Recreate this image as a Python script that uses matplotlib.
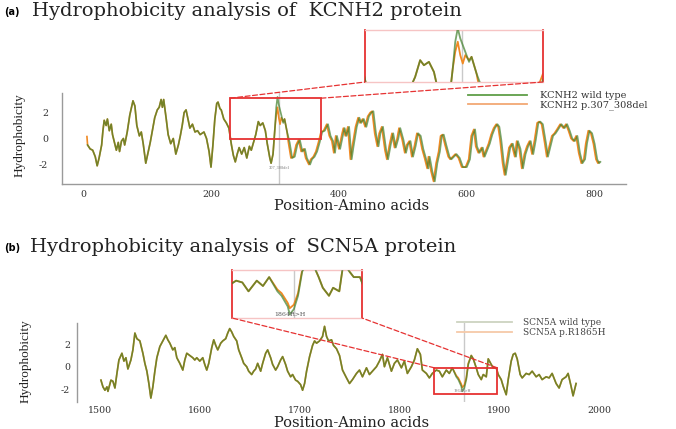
import numpy as np
import matplotlib
matplotlib.use("Agg")
import matplotlib.pyplot as plt
from matplotlib.lines import Line2D
from matplotlib.patches import Rectangle, ConnectionPatch

plt.rcParams['axes.unicode_minus'] = False
plt.rcParams['font.family'] = ['DejaVu Serif']

# ---------------- data: KCNH2 (panel a) ----------------
kcnh2_pos = [7, 11, 15, 19, 22, 25, 29, 31, 33, 36, 38, 41, 44, 46, 49, 52, 55, 57, 60, 63,
             65, 69, 73, 78, 81, 84, 88, 91, 94, 98, 102, 105, 109, 112, 116, 119, 122, 124, 126, 130,
             133, 137, 141, 145, 149, 152, 155, 158, 161, 164, 167, 171, 175, 179, 183, 189, 193, 197, 200, 203,
             206, 209, 211, 214, 216, 220, 224, 228, 232, 235, 238, 241, 244, 248, 252, 256, 260, 263, 267, 270,
             274, 277, 281, 285, 288, 292, 294, 297, 300, 302, 304, 306, 310, 313, 315, 319, 323, 327, 331, 335,
             339, 343, 347, 350, 355, 358, 362, 366, 370, 374, 378, 383, 387, 391, 394, 397, 402, 407, 409, 412,
             416, 420, 423, 428, 432, 435, 439, 443, 447, 451, 454, 458, 462, 465, 469, 474, 477, 481, 485, 489,
             493, 496, 501, 505, 508, 512, 516, 520, 524, 528, 532, 536, 540, 542, 546, 550, 554, 558, 561, 564,
             568, 573, 576, 580, 584, 589, 594, 600, 605, 609, 613, 616, 620, 625, 628, 632, 636, 640, 644, 648,
             651, 654, 658, 661, 665, 668, 672, 677, 680, 684, 688, 692, 696, 700, 704, 708, 712, 715, 719, 724,
             727, 731, 735, 739, 743, 748, 753, 757, 761, 765, 769, 773, 777, 781, 785, 788, 792, 796, 800, 804,
             807, 809]
kcnh2_wt = [-0.5, -0.8, -0.9, -1.4, -2.1, -1.5, -0.5, 0.6, 1.4, 1.0, 1.5, 0.6, 1.1, 0.3, -0.3, -0.9, -0.3, -1.0, -0.2, 0.0,
            -0.5, 0.5, 1.8, 2.9, 2.5, 1.0, 0.2, 0.5, -0.4, -1.9, -1.0, -0.3, 0.8, 1.6, 2.2, 2.4, 3.0, 2.4, 3.0, 1.5,
            0.3, -0.4, 0.0, -1.2, -0.5, 0.2, 1.0, 2.0, 2.2, 1.5, 0.8, 1.1, 0.5, 0.6, 0.3, 0.5, 0.0, -1.0, -2.2, -0.5,
            1.5, 2.7, 2.8, 2.3, 2.2, 1.5, 1.2, 0.8, -0.5, -1.3, -1.8, -1.2, -0.7, -1.2, -0.7, -1.5, -0.6, -0.9, -0.2, 0.3,
            1.3, 1.0, 1.2, 0.6, -0.4, -1.5, -1.9, -1.2, 0.8, 2.4, 3.2, 2.6, 1.8, 1.2, 1.5, 0.5, -0.3, -1.5, -1.4, -0.5,
            -0.1, -1.0, -0.8, -1.5, -2.0, -1.6, -1.4, -1.0, -0.3, 0.5, 0.6, 1.1, 0.2, -0.2, -1.1, 0.2, -0.8, 0.4, 0.8, 0.2,
            0.9, -1.6, -0.6, 0.9, 1.6, 1.2, 1.5, 0.9, 1.7, 2.0, 2.1, 0.4, -0.6, 0.4, 0.9, -0.9, -1.6, -0.5, 0.4, -0.7,
            0.0, 0.8, -0.1, -1.1, -0.5, -0.2, -1.4, -0.6, 0.4, 0.2, -0.8, -1.5, -2.3, -1.4, -2.5, -3.3, -1.9, -1.0, 0.2, 0.3,
            -0.5, -1.4, -1.6, -1.4, -1.2, -1.5, -2.2, -2.2, -1.6, 0.2, 0.7, -0.6, -1.1, -0.7, -1.4, -0.9, -0.4, 0.3, 0.8, 1.1,
            0.9, -0.1, -1.9, -2.8, -1.6, -0.7, -0.4, -1.4, -0.2, -0.8, -2.3, -1.2, -0.6, -0.2, -1.2, -0.1, 1.2, 1.3, 1.1, -0.4,
            -1.4, -0.6, 0.2, 0.4, 0.7, 1.1, 0.8, 1.1, 0.6, 0.0, -0.2, 0.2, -1.1, -1.9, -1.6, -0.4, 0.6, 0.4, -0.4, -1.6,
            -1.9, -1.8]
# mutant (p.307_308del): explicit values around the deletion; downstream = wild type shifted by 2 residues
kcnh2_mut_head_pos = [6]
kcnh2_mut_head = [0.15]
kcnh2_mut_local_pos = [300, 302, 304, 306, 308, 310, 313, 315, 319]
kcnh2_mut_local = [0.8, 1.8, 2.4, 1.6, 1.1, 1.6, 1.3, 1.5, 0.5]
kcnh2_del_len = 2
kcnh2_site = 307

# ---------------- data: SCN5A (panel b) ----------------
scn5a_pos = [1501, 1503, 1505, 1507, 1508, 1511, 1513, 1515, 1517, 1519, 1522, 1524, 1526, 1528, 1531, 1533, 1535, 1537, 1540, 1543,
             1545, 1547, 1549, 1551, 1553, 1555, 1557, 1560, 1563, 1566, 1568, 1570, 1573, 1575, 1577, 1580, 1583, 1585, 1587, 1590,
             1593, 1595, 1597, 1600, 1603, 1605, 1607, 1609, 1612, 1614, 1616, 1618, 1621, 1623, 1626, 1628, 1630, 1632, 1634, 1637,
             1639, 1642, 1644, 1647, 1649, 1652, 1654, 1656, 1658, 1661, 1663, 1666, 1668, 1671, 1673, 1676, 1678, 1681, 1683, 1686,
             1688, 1691, 1693, 1696, 1698, 1701, 1703, 1705, 1707, 1710, 1713, 1715, 1717, 1720, 1723, 1725, 1727, 1729, 1732, 1734,
             1737, 1740, 1743, 1747, 1750, 1753, 1757, 1760, 1763, 1767, 1770, 1773, 1777, 1780, 1783, 1785, 1788, 1792, 1795, 1798,
             1802, 1805, 1808, 1812, 1815, 1818, 1821, 1823, 1827, 1830, 1833, 1837, 1840, 1843, 1847, 1850, 1853, 1857, 1859, 1862,
             1863, 1865, 1867, 1869, 1872, 1874, 1877, 1879, 1882, 1884, 1887, 1889, 1892, 1894, 1897, 1899, 1902, 1904, 1907, 1909,
             1912, 1914, 1916, 1918, 1921, 1923, 1927, 1930, 1933, 1937, 1940, 1943, 1947, 1950, 1953, 1957, 1960, 1963, 1967, 1969,
             1972, 1974, 1977]
scn5a_wt = [-1.2, -1.8, -2.1, -1.8, -2.2, -1.2, -1.3, -1.9, -0.6, 0.6, 1.2, 0.5, 0.8, -0.2, 0.6, 1.5, 3.0, 2.5, 2.3, 1.2,
            0.3, -0.4, -1.5, -2.8, -1.8, -0.4, 0.8, 1.8, 2.3, 2.8, 2.4, 2.1, 1.5, 1.7, 0.8, 0.3, -0.3, 0.6, 1.2, 1.0,
            0.8, 0.6, 0.8, 0.5, 0.8, 0.2, -0.3, 0.3, 1.7, 2.4, 1.9, 1.5, 2.1, 2.3, 2.5, 3.0, 3.4, 3.1, 2.7, 2.3,
            1.5, 0.8, 0.3, 0.0, -0.4, -0.7, -0.4, -0.2, 0.3, -0.4, 0.3, 1.2, 1.5, 0.8, 0.2, -0.3, 0.0, 0.6, 0.9, 0.2,
            -0.4, -0.9, -0.7, -1.2, -1.3, -1.6, -2.1, -1.5, -0.4, 0.9, 1.9, 2.3, 2.1, 2.3, 2.7, 3.6, 2.7, 2.3, 2.4, 1.9,
            1.6, 1.0, -0.3, -1.0, -1.5, -1.15, -0.6, -0.3, -0.9, -0.1, -0.7, -0.4, 0.0, 0.5, 1.1, 0.0, 0.8, -0.4, 0.3, 0.6,
            -0.1, 0.5, -0.6, 0.0, 0.6, 1.6, 1.1, -0.3, -0.6, -1.0, -0.6, -0.3, -0.4, -0.9, -0.3, -0.6, -0.1, -0.9, -1.15, -1.75,
            -2.2, -1.9, -1.15, 0.2, 1.0, 0.7, -0.1, -0.7, -1.15, -0.7, -0.9, 0.7, 0.2, -0.1, -0.1, -0.7, -1.15, -1.75, -2.5, -1.15,
            0.5, 1.1, 1.2, 0.7, -0.7, -1.0, -0.6, -0.7, -0.4, -0.9, -0.7, -1.15, -0.9, -1.0, -0.6, -1.5, -1.9, -1.15, -0.9, -0.6,
            -1.75, -2.6, -1.5]
scn5a_mut_local_pos = [1857, 1859, 1862, 1863, 1865, 1867, 1869]
scn5a_mut_local = [-0.8, -1.0, -1.55, -1.85, -1.65, -1.0, 0.3]
scn5a_site = 1865

assert len(kcnh2_pos) == len(kcnh2_wt), (len(kcnh2_pos), len(kcnh2_wt))
assert len(scn5a_pos) == len(scn5a_wt), (len(scn5a_pos), len(scn5a_wt))

# ---------------- build mutant series ----------------
kp = np.array(kcnh2_pos, float); kw = np.array(kcnh2_wt, float)
lo, hi = kcnh2_mut_local_pos[0], kcnh2_mut_local_pos[-1]
k_mut_x = np.concatenate([kcnh2_mut_head_pos, kp[kp < lo], kcnh2_mut_local_pos, kp[kp > hi + 2] - kcnh2_del_len])
k_mut_y = np.concatenate([kcnh2_mut_head, kw[kp < lo], kcnh2_mut_local, kw[kp > hi + 2]])

sp = np.array(scn5a_pos, float); sw = np.array(scn5a_wt, float)
lo, hi = scn5a_mut_local_pos[0], scn5a_mut_local_pos[-1]
s_mut_x = np.concatenate([sp[sp < lo], scn5a_mut_local_pos, sp[sp > hi]])
s_mut_y = np.concatenate([sw[sp < lo], scn5a_mut_local, sw[sp > hi]])

# ---------------- styling ----------------
GREEN = '#3f7f2a'
ORANGE = '#f08a24'
RED = '#e63232'
PALE_RED = '#f6c4c4'
GRAY = '#9a9a9a'
VGRAY = '#c9c9c9'

W, H = 676, 429
fig = plt.figure(figsize=(W / 100, H / 100), dpi=100)


def fx(px):
    return px / W


def fy(py):
    return 1 - py / H


def axes_px(l, t, r, b):
    return fig.add_axes([fx(l), fy(b), (r - l) / W, (b - t) / H])


def draw_lines(ax, wx, wy, mx, my, site, lw=1.2):
    ax.axvline(site, color=VGRAY, lw=1.0, zorder=0)
    lm, = ax.plot(mx, my, color=ORANGE, lw=lw, zorder=2)
    lw_, = ax.plot(wx, wy, color=GREEN, lw=lw, alpha=0.7, zorder=3)
    return lw_, lm


def style_inset(ax):
    ax.set_xticks([]); ax.set_yticks([])
    for s in ('left', 'right'):
        ax.spines[s].set_color(RED); ax.spines[s].set_linewidth(1.3)
    for s in ('top', 'bottom'):
        ax.spines[s].set_color(PALE_RED); ax.spines[s].set_linewidth(1.0)


def connect(ax_main, ax_in, pts):
    for (xy_main, xy_in) in pts:
        con = ConnectionPatch(xyA=xy_main, coordsA=ax_main.transData,
                              xyB=xy_in, coordsB=ax_in.transAxes,
                              color=RED, lw=0.9, linestyle=(0, (4, 2)), zorder=5)
        fig.add_artist(con)


TICKFS = 6.8
TITLEFS = 14
XLABFS = 10.5

# ================= Panel (a) =================
ax_a = axes_px(62, 93, 626, 184)
ax_a.set_xlim(-33, 849)
ax_a.set_ylim(-3.5, 3.5)
draw_lines(ax_a, kp, kw, k_mut_x, k_mut_y, kcnh2_site)
ax_a.set_xticks([0, 200, 400, 600, 800])
ax_a.set_yticks([-2, 0, 2])
ax_a.tick_params(axis='y', length=0, labelsize=TICKFS, pad=10, colors='#333333')
ax_a.tick_params(axis='x', length=0, labelsize=TICKFS, pad=4, colors='#333333')
for s in ('top', 'right'):
    ax_a.spines[s].set_visible(False)
for s in ('left', 'bottom'):
    ax_a.spines[s].set_color(GRAY); ax_a.spines[s].set_linewidth(1.0)
rect_a = (230, 0.0, 372, 3.1)
ax_a.add_patch(Rectangle((rect_a[0], rect_a[1]), rect_a[2] - rect_a[0], rect_a[3] - rect_a[1],
                         fill=False, ec=RED, lw=1.3, zorder=6))
ax_a.text(kcnh2_site, -2.25, '307_308del', fontsize=2.5, color='#777777', ha='center', va='center')

ax_ia = axes_px(365, 30, 543, 82)
draw_lines(ax_ia, kp, kw, k_mut_x, k_mut_y, kcnh2_site, lw=1.3)
ax_ia.set_xlim(rect_a[0], rect_a[2]); ax_ia.set_ylim(rect_a[1], rect_a[3])
style_inset(ax_ia)
connect(ax_a, ax_ia, [((rect_a[0], rect_a[3]), (0, 0)), ((rect_a[2], rect_a[3]), (1, 0))])

leg_a = fig.legend([Line2D([], [], color='#5f9e48', lw=1.3), Line2D([], [], color='#f2a874', lw=1.3)],
                   ['KCNH2 wild type', 'KCNH2 p.307_308del'],
                   loc='upper left', bbox_to_anchor=(fx(468), fy(91)), bbox_transform=fig.transFigure,
                   frameon=False, fontsize=7, borderpad=0, borderaxespad=0,
                   handlelength=6.1, handletextpad=1.3, labelspacing=0.05)
for t in leg_a.get_texts():
    t.set_color('#333333')

fig.text(fx(4), fy(15), '(a)', fontsize=7, fontweight='bold', family='DejaVu Sans', va='baseline', ha='left')
fig.text(fx(32), fy(16), 'Hydrophobicity analysis of  KCNH2 protein', fontsize=TITLEFS, va='baseline', ha='left',
         color='#222222')
fig.text(fx(352), fy(210), 'Position-Amino acids', fontsize=XLABFS, va='baseline', ha='center', color='#222222')
fig.text(fx(20), fy(135), 'Hydrophobicity', fontsize=9.5, family='Liberation Serif', rotation=90,
         va='center', ha='center', color='#222222')

# ================= Panel (b) =================
ax_b = axes_px(77, 323, 620, 402)
ax_b.set_xlim(1477, 2021)
ax_b.set_ylim(-3.15, 3.9)
draw_lines(ax_b, sp, sw, s_mut_x, s_mut_y, scn5a_site)
ax_b.set_xticks([1500, 1600, 1700, 1800, 1900, 2000])
ax_b.set_yticks([-2, 0, 2])
ax_b.tick_params(axis='y', length=0, labelsize=TICKFS, pad=5, colors='#333333')
ax_b.tick_params(axis='x', length=0, labelsize=TICKFS, pad=3, colors='#333333')
for s in ('top', 'right', 'bottom'):
    ax_b.spines[s].set_visible(False)
ax_b.spines['left'].set_color(GRAY); ax_b.spines['left'].set_linewidth(1.0)
rect_b = (1835, -2.4, 1898, -0.1)
ax_b.add_patch(Rectangle((rect_b[0], rect_b[1]), rect_b[2] - rect_b[0], rect_b[3] - rect_b[1],
                         fill=False, ec=RED, lw=1.3, zorder=6))
ax_b.text(scn5a_site - 2, -2.2, '1864R>H', fontsize=2.5, color='#777777', ha='center', va='center')

ax_ib = axes_px(232, 270, 362, 318)
draw_lines(ax_ib, sp, sw, s_mut_x, s_mut_y, scn5a_site, lw=1.3)
ax_ib.set_xlim(rect_b[0], rect_b[2]); ax_ib.set_ylim(-2.4, 0.3)
style_inset(ax_ib)
ax_ib.text(1863, -2.2, '1864R>H', fontsize=4.5, color='#555555', ha='center', va='center')
connect(ax_b, ax_ib, [((rect_b[0], rect_b[3]), (0, 0)), ((rect_b[2], rect_b[3]), (1, 0))])

leg_b = fig.legend([Line2D([], [], color='#cdd3c0', lw=1.3), Line2D([], [], color='#f6c9a8', lw=1.3)],
                   ['SCN5A wild type', 'SCN5A p.R1865H'],
                   loc='upper left', bbox_to_anchor=(fx(457), fy(318)), bbox_transform=fig.transFigure,
                   frameon=False, fontsize=6.5, borderpad=0, borderaxespad=0,
                   handlelength=6.1, handletextpad=1.2, labelspacing=0.1)
for t in leg_b.get_texts():
    t.set_color('#444444')

fig.text(fx(4), fy(251), '(b)', fontsize=7, fontweight='bold', family='DejaVu Sans', va='baseline', ha='left')
fig.text(fx(30), fy(252), 'Hydrophobicity analysis of  SCN5A protein', fontsize=TITLEFS, va='baseline', ha='left',
         color='#222222')
fig.text(fx(352), fy(427), 'Position-Amino acids', fontsize=XLABFS, va='baseline', ha='center', color='#222222')
fig.text(fx(26), fy(361), 'Hydrophobicity', fontsize=9.5, family='Liberation Serif', rotation=90,
         va='center', ha='center', color='#222222')

fig.savefig('out.png', dpi=100)
